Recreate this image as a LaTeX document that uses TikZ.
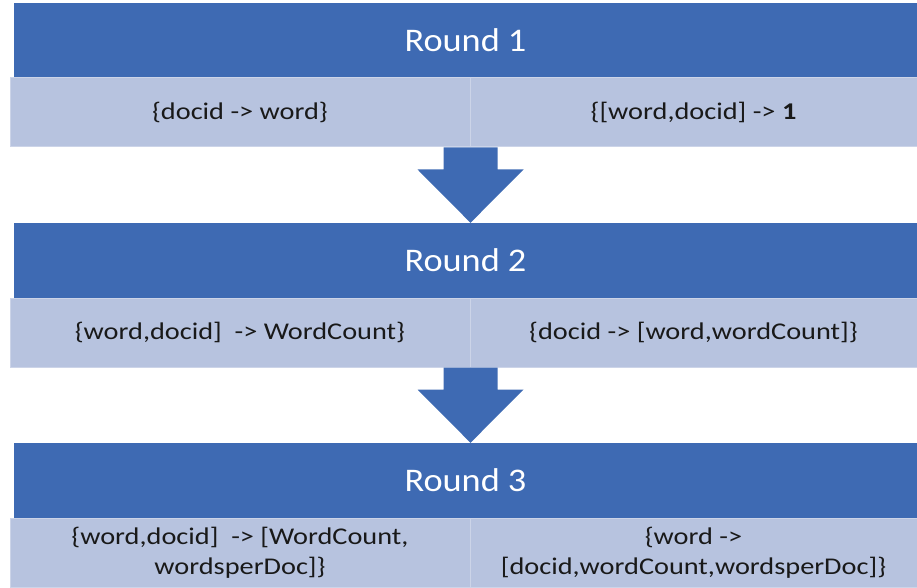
\documentclass[tikz,border=0pt]{standalone}
\usepackage{fontspec}
\setmainfont{Carlito}
\newfontfamily\hdrfont[FakeStretch=1.1]{Carlito}
\newfontfamily\cellfont[FakeStretch=1.18]{Carlito}
\usetikzlibrary{calc}
\definecolor{hdrblue}{HTML}{3E6AB3}
\definecolor{cellblue}{HTML}{B7C3DF}
\definecolor{celledge}{HTML}{CCD4E8}

\begin{document}
\begin{tikzpicture}[x=1pt,y=-1pt,
        hdr/.style={fill=hdrblue,text=white,minimum width=903pt,minimum height=75pt,inner sep=0pt,font=\hdrfont\fontsize{33}{36}\selectfont},
        cell/.style={fill=cellblue,draw=celledge,line width=1pt,minimum height=69pt,inner sep=0pt,align=center,text=black!90,font=\cellfont\fontsize{24}{30}\selectfont}]
        \useasboundingbox (0,0) rectangle (917,588);
        \foreach \i in {1,2,3} {
            \node[hdr] (hdr\i) at (465.5,{40.5+220*(\i-1)}) {Round \i};
        }
        \node[cell,minimum width=460pt] (l1) at (240,112.5) {\{docid -> word\}};
        \node[cell,minimum width=447pt] (r1) at (693.5,112.5) {\{[word,docid] -> \textbf{1}};
        \node[cell,minimum width=460pt] (l2) at (240,332.5) {\{word,docid]\ \ -> WordCount\}};
        \node[cell,minimum width=447pt] (r2) at (693.5,332.5) {\{docid -> [word,wordCount]\}};
        \node[cell,minimum width=460pt] (l3) at (240,552.5) {\{word,docid]\ \ -> [WordCount,\\ wordsperDoc]\}};
        \node[cell,minimum width=447pt] (r3) at (693.5,552.5) {\{word ->\\ {[docid,wordCount,wordsperDoc]\}}};
        \foreach \i/\j in {1/2,2/3} {
            \fill[hdrblue] ($(l\i.south east)+(-27,0)$) -- ($(l\i.south east)+(27,0)$) -- ($(l\i.south east)+(27,22)$) -- ($(l\i.south east)+(53,22)$)
                -- (l\i.south east |- hdr\j.north) -- ($(l\i.south east)+(-53,22)$) -- ($(l\i.south east)+(-27,22)$) -- cycle;
        }
    \end{tikzpicture}
\end{document}
